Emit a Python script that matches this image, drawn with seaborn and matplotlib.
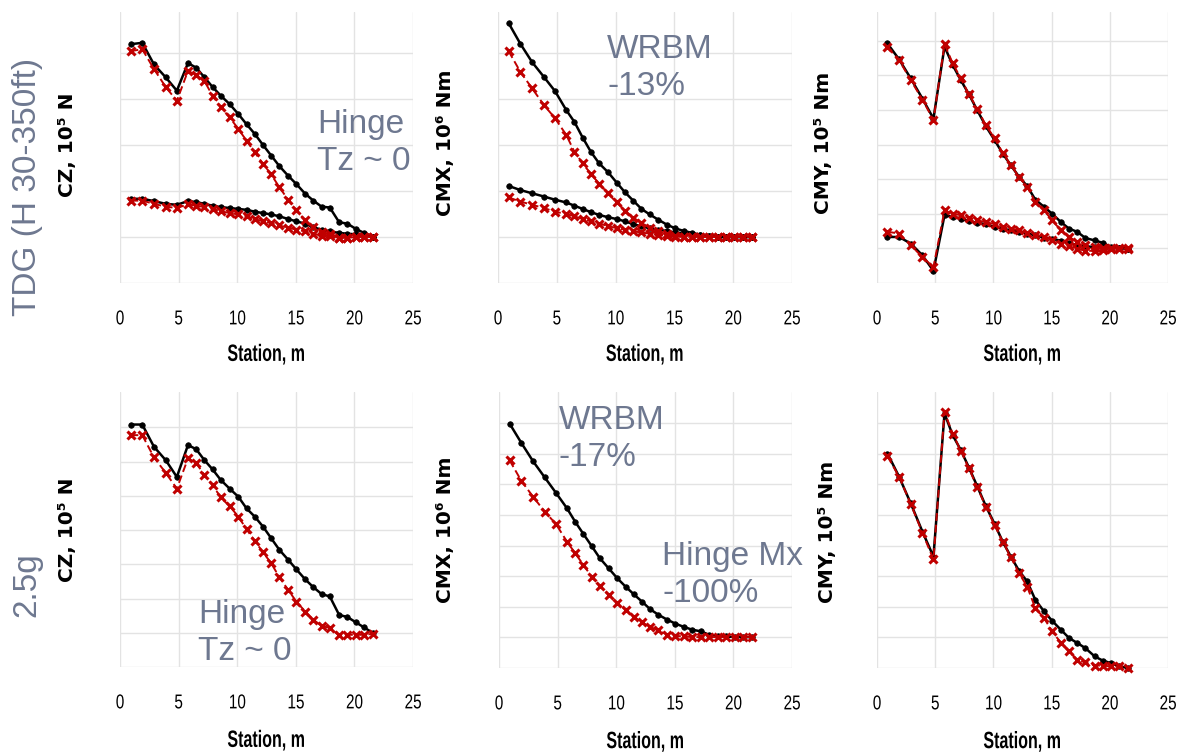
import matplotlib
matplotlib.use("Agg")
import matplotlib.pyplot as plt
import matplotlib.patheffects as pe
from matplotlib.transforms import Affine2D
import seaborn as sns
import pandas as pd

# Spanwise stations along the wing (m)
station = [0.9, 1.9, 2.9, 3.9, 4.85, 5.8, 6.5, 7.2, 7.9, 8.6, 9.35, 10.1, 10.8, 11.5,
           12.2, 12.9, 13.6, 14.35, 15.05, 15.8, 16.5, 17.2, 17.9, 18.7, 19.4, 20.1, 20.8, 21.6]

# --- TDG (H 30-350ft) : shear CZ (grid units) ---
cz_tdg_base_hi = [5.19, 5.22, 4.75, 4.47, 4.18, 4.78, 4.68, 4.47, 4.26, 4.07, 3.89, 3.67, 3.45, 3.24,
                  3.0, 2.77, 2.54, 2.33, 2.15, 1.94, 1.79, 1.66, 1.64, 1.32, 1.29, 1.18, 1.09, 1.01]
cz_tdg_hinge_hi = [5.04, 5.08, 4.65, 4.26, 3.96, 4.61, 4.52, 4.39, 4.07, 3.82, 3.6, 3.35, 3.09, 2.84,
                   2.59, 2.36, 2.08, 1.81, 1.58, 1.36, 1.21, 1.10, 1.07, 0.98, 0.98, 1.0, 1.0, 1.0]
cz_tdg_base_lo = [1.83, 1.83, 1.78, 1.72, 1.70, 1.78, 1.76, 1.72, 1.68, 1.65, 1.63, 1.61, 1.59, 1.55,
                  1.52, 1.49, 1.45, 1.39, 1.34, 1.29, 1.21, 1.16, 1.12, 1.09, 1.07, 1.06, 1.04, 1.01]
cz_tdg_hinge_lo = [1.79, 1.79, 1.72, 1.66, 1.63, 1.71, 1.68, 1.65, 1.61, 1.56, 1.52, 1.49, 1.45, 1.39,
                   1.34, 1.30, 1.25, 1.20, 1.16, 1.12, 1.07, 1.03, 1.02, 0.98, 0.98, 1.0, 1.0, 1.0]

# --- TDG : bending CMX ---
cmx_tdg_base_hi = [5.65, 5.2, 4.8, 4.48, 4.17, 3.76, 3.5, 3.16, 2.85, 2.6, 2.41, 2.18, 1.97, 1.79,
                   1.61, 1.49, 1.38, 1.27, 1.19, 1.13, 1.09, 1.05, 1.02, 1.0, 1.0, 1.0, 1.0, 1.0]
cmx_tdg_hinge_hi = [5.04, 4.59, 4.23, 3.87, 3.58, 3.22, 2.85, 2.6, 2.37, 2.16, 1.95, 1.75, 1.57, 1.42,
                    1.31, 1.2, 1.13, 1.07, 1.03, 1.01, 1.0, 1.0, 1.0, 1.0, 1.0, 1.0, 1.0, 1.0]
cmx_tdg_base_lo = [2.11, 2.02, 1.95, 1.88, 1.81, 1.75, 1.68, 1.61, 1.54, 1.48, 1.43, 1.39, 1.34, 1.28,
                   1.23, 1.19, 1.16, 1.13, 1.1, 1.08, 1.07, 1.05, 1.03, 1.0, 1.0, 1.0, 1.0, 1.0]
cmx_tdg_hinge_lo = [1.86, 1.77, 1.70, 1.63, 1.55, 1.50, 1.45, 1.39, 1.34, 1.29, 1.24, 1.19, 1.16, 1.12,
                    1.10, 1.07, 1.04, 1.03, 1.01, 1.0, 1.0, 1.0, 1.0, 1.0, 1.0, 1.0, 1.0, 1.0]

# --- TDG : torsion CMY ---
cmy_tdg_base_hi = [6.92, 6.46, 5.91, 5.33, 4.75, 6.83, 6.3, 5.86, 5.45, 5.0, 4.53, 4.13, 3.74, 3.4,
                   3.07, 2.8, 2.41, 2.2, 2.0, 1.76, 1.57, 1.48, 1.3, 1.23, 1.16, 1.04, 1.02, 0.99]
cmy_tdg_hinge_hi = [6.81, 6.44, 5.86, 5.3, 4.71, 6.9, 6.35, 5.91, 5.45, 5.04, 4.56, 4.18, 3.76, 3.4,
                    3.07, 2.78, 2.34, 2.1, 1.81, 1.52, 1.33, 1.19, 1.1, 1.04, 1.02, 1.0, 1.0, 1.0]
cmy_tdg_base_lo = [1.33, 1.33, 1.14, 0.8, 0.35, 1.96, 1.91, 1.86, 1.79, 1.74, 1.7, 1.62, 1.57, 1.52,
                   1.48, 1.43, 1.38, 1.31, 1.28, 1.22, 1.16, 1.09, 1.06, 1.04, 1.02, 1.02, 1.01, 0.99]
cmy_tdg_hinge_lo = [1.48, 1.43, 1.09, 0.75, 0.46, 2.1, 2.0, 1.96, 1.89, 1.81, 1.76, 1.7, 1.62, 1.57,
                    1.52, 1.45, 1.4, 1.33, 1.25, 1.14, 1.06, 0.99, 0.93, 0.93, 0.96, 0.99, 0.99, 0.99]

# --- 2.5g manoeuvre ---
cz_25g_base = [7.08, 7.08, 6.43, 6.04, 5.55, 6.48, 6.36, 6.04, 5.77, 5.46, 5.21, 4.97, 4.63, 4.39,
               4.1, 3.76, 3.42, 3.13, 2.85, 2.56, 2.33, 2.13, 2.06, 1.52, 1.46, 1.31, 1.16, 0.99]
cz_25g_hinge = [6.77, 6.77, 6.12, 5.67, 5.21, 6.09, 5.96, 5.6, 5.31, 4.95, 4.7, 4.39, 4.02, 3.68,
                3.35, 3.03, 2.62, 2.25, 1.91, 1.62, 1.38, 1.2, 1.14, 0.92, 0.94, 0.94, 0.94, 0.97]
cmx_25g_base = [7.99, 7.36, 6.76, 6.23, 5.73, 5.22, 4.78, 4.38, 3.99, 3.59, 3.26, 2.93, 2.66, 2.41,
                2.17, 1.92, 1.74, 1.58, 1.45, 1.34, 1.25, 1.2, 1.09, 1.05, 1.03, 1.01, 1.01, 1.01]
cmx_25g_hinge = [6.79, 6.12, 5.6, 5.11, 4.71, 4.13, 3.75, 3.37, 2.99, 2.68, 2.39, 2.12, 1.9, 1.68,
                 1.49, 1.34, 1.23, 1.09, 1.05, 1.03, 1.01, 1.01, 1.01, 1.01, 1.01, 1.01, 1.01, 1.01]
cmy_25g_base = [7.01, 6.25, 5.38, 4.46, 3.64, 8.32, 7.61, 7.12, 6.55, 5.95, 5.29, 4.71, 4.13, 3.64,
                3.18, 2.83, 2.23, 1.85, 1.54, 1.25, 0.98, 0.82, 0.65, 0.38, 0.24, 0.16, 0.05, 0.0]
cmy_25g_hinge = [6.92, 6.25, 5.36, 4.42, 3.55, 8.37, 7.66, 7.1, 6.52, 5.92, 5.27, 4.67, 4.13, 3.62,
                 3.1, 2.66, 1.96, 1.63, 1.2, 0.82, 0.54, 0.27, 0.18, 0.08, 0.08, 0.05, 0.05, 0.0]

y_labels = ["CZ, 10⁵ N", "CMX, 10⁶ Nm", "CMY, 10⁵ Nm"]
x_ticks = [0, 5, 10, 15, 20, 25]
row_titles = ["TDG (H 30-350ft)", "2.5g"]

W, H = 1184, 754
sns.set_style("white")
plt.rcParams["font.family"] = ["Liberation Sans", "DejaVu Sans"]
plt.rcParams["text.color"] = "black"
plt.rcParams["axes.labelcolor"] = "black"
plt.rcParams["xtick.color"] = "black"

fig = plt.figure(figsize=(W / 100, H / 100), dpi=100)
fig.patch.set_facecolor("white")

BLACK = "#000000"
RED = "#C00000"
NOTE = "#6E7890"


class Condense(pe.AbstractPathEffect):
    """Squeeze glyphs horizontally about the text centre (narrow-font look)."""

    def __init__(self, sx):
        super().__init__()
        self.sx = sx

    def draw_path(self, renderer, gc, tpath, affine, rgbFace=None):
        ext = tpath.get_extents()
        cx = 0.5 * (ext.x0 + ext.x1)
        squeeze = Affine2D().translate(-cx, 0).scale(self.sx, 1.0).translate(cx, 0)
        renderer.draw_path(gc, tpath, squeeze + affine, rgbFace)


def fx(x):
    return x / W


def fy(y):
    return 1 - y / H


def make_axes(left, top, right, bottom):
    return fig.add_axes([fx(left), fy(bottom), (right - left) / W, (bottom - top) / H])


def draw_pair(ax, base, hinge):
    df = pd.DataFrame({"station": station, "base": base, "hinge": hinge})
    sns.lineplot(data=df, x="station", y="base", ax=ax, sort=False, color=BLACK, lw=1.8,
                 marker="o", markersize=4, markeredgecolor=BLACK, markeredgewidth=0.5,
                 clip_on=False, zorder=3)
    sns.lineplot(data=df, x="station", y="hinge", ax=ax, sort=False, color=RED, lw=1.4,
                 linestyle=(0, (4, 2)), marker="x", markersize=5.8, markeredgecolor=RED,
                 markeredgewidth=2.2, clip_on=False, zorder=4)


def style_axes(ax, n_grid, top, ylabel, lab_x, lab_y, xlab_y):
    ax.set_xlim(0, 25)
    ax.set_ylim(0, top)
    ax.set_xticks(x_ticks)
    ax.set_xticklabels([str(t) for t in x_ticks])
    ax.set_yticks(range(n_grid + 1))
    ax.set_yticklabels([])
    ax.grid(True, color="#E3E3E3", lw=1.0)
    ax.set_axisbelow(True)
    for s in ax.spines.values():
        s.set_visible(False)
    ax.tick_params(axis="both", length=0)
    ax.tick_params(axis="x", pad=19, labelsize=14.5)
    for t in ax.get_xticklabels():
        t.set_path_effects([Condense(0.76)])
    ax.set_xlabel("Station, m", fontsize=17, fontweight="bold",
                  path_effects=[Condense(0.68)])
    ax.xaxis.set_label_coords(0.5, xlab_y)
    ax.set_ylabel(ylabel, fontsize=14.5, fontweight="bold", family=["DejaVu Sans"], va="center")
    ax.yaxis.set_label_coords(fx(lab_x), fy(lab_y), transform=fig.transFigure)


rects = [
    (120, 12, 413, 283), (498, 12, 792, 283), (877, 12, 1168, 283),
    (120, 392, 413, 667), (499, 392, 792, 668), (877, 392, 1168, 668),
]
axs = [make_axes(*r) for r in rects]

# Row 1: TDG
draw_pair(axs[0], cz_tdg_base_hi, cz_tdg_hinge_hi)
draw_pair(axs[0], cz_tdg_base_lo, cz_tdg_hinge_lo)
draw_pair(axs[1], cmx_tdg_base_hi, cmx_tdg_hinge_hi)
draw_pair(axs[1], cmx_tdg_base_lo, cmx_tdg_hinge_lo)
draw_pair(axs[2], cmy_tdg_base_hi, cmy_tdg_hinge_hi)
draw_pair(axs[2], cmy_tdg_base_lo, cmy_tdg_hinge_lo)
# Row 2: 2.5g
draw_pair(axs[3], cz_25g_base, cz_25g_hinge)
draw_pair(axs[4], cmx_25g_base, cmx_25g_hinge)
draw_pair(axs[5], cmy_25g_base, cmy_25g_hinge)

style_axes(axs[0], 5, 5.89, y_labels[0], 67, 145, -0.221)
style_axes(axs[1], 5, 5.89, y_labels[1], 445, 143, -0.221)
style_axes(axs[2], 7, 7.83, y_labels[2], 823, 143, -0.221)
style_axes(axs[3], 7, 8.03, y_labels[0], 67, 530, -0.225)
style_axes(axs[4], 8, 9.02, y_labels[1], 445, 530, -0.225)
style_axes(axs[5], 8, 9.02, y_labels[2], 828, 532, -0.225)

# Row titles
fig.text(fx(28), fy(187), row_titles[0], rotation=90, ha="center", va="center",
         fontsize=24, color=NOTE)
fig.text(fx(27), fy(585), row_titles[1], rotation=90, ha="center", va="center",
         fontsize=24, color=NOTE)

# Annotations
note_kw = dict(fontsize=24, color=NOTE, ha="left", va="top", linespacing=1.26)
fig.text(fx(317), fy(109), "Hinge\nTz ~ 0", **note_kw)
fig.text(fx(607), fy(34), "WRBM\n-13%", **note_kw)
fig.text(fx(198), fy(599), "Hinge\nTz ~ 0", **note_kw)
fig.text(fx(559), fy(405), "WRBM\n-17%", **note_kw)
fig.text(fx(662), fy(541), "Hinge Mx\n-100%", **note_kw)

fig.savefig("out.png", dpi=100, facecolor="white")
